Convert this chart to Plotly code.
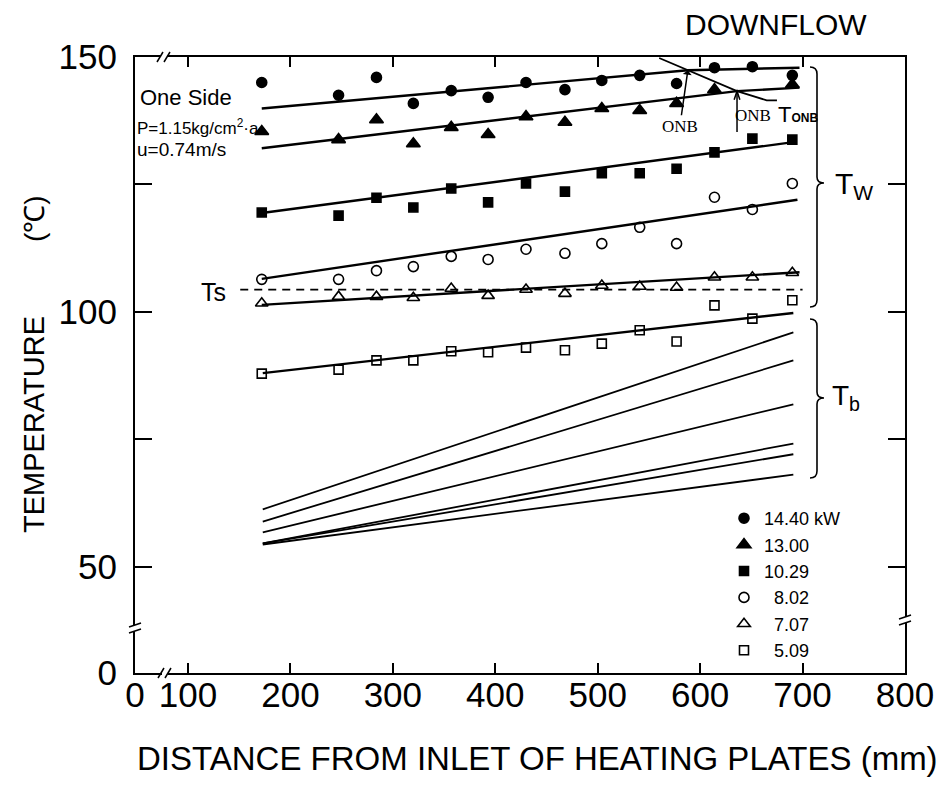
import plotly.graph_objects as go

# ---------------- data ----------------
positions = [172, 247, 284, 320, 357, 393, 430, 468, 504, 541, 577, 614, 651, 690]
positions_13 = [172, 247, 284, 320, 357, 393, 430, 468, 504, 541, 577, 614, 690]

series_names = ["14.40\u00a0kW", "13.00", "10.29", "\u00a0\u00a08.02", "\u00a0\u00a07.07", "\u00a0\u00a05.09"]

tw_1440 = [145.0, 142.5, 146.0, 140.9, 143.4, 142.1, 145.0, 143.6, 145.4, 146.4, 144.8, 147.9, 148.1, 146.4]
tw_1300 = [135.4, 133.8, 137.7, 133.0, 136.2, 134.8, 138.3, 137.2, 139.9, 139.5, 140.9, 143.6, 144.6]
tw_1029 = [119.5, 118.9, 122.4, 120.5, 124.2, 121.5, 125.2, 123.6, 127.2, 127.2, 128.1, 131.3, 134.0, 133.8]
tw_802 = [106.4, 106.4, 108.1, 108.9, 110.9, 110.3, 112.3, 111.5, 113.4, 116.6, 113.4, 122.5, 120.1, 125.2]
tw_707 = [101.7, 103.0, 103.0, 102.8, 104.6, 103.2, 104.4, 103.6, 105.2, 105.0, 104.8, 106.8, 106.8, 107.7]
tw_509 = [87.9, 88.7, 90.5, 90.5, 92.3, 92.1, 93.0, 92.5, 93.8, 96.4, 94.2, 101.3, 98.7, 102.3]

# fitted wall-temperature lines (single phase, then boiling plateau after ONB)
fit_1440_x = [172, 588, 697]
fit_1440_t = [139.9, 147.4, 147.9]
fit_1300_x = [172, 636, 697]
fit_1300_t = [132.1, 143.3, 144.0]
fit_1029_x = [172, 691]
fit_1029_t = [119.4, 133.3]
fit_802_x = [172, 695]
fit_802_t = [106.5, 122.0]
fit_707_x = [172, 697]
fit_707_t = [101.4, 107.8]
fit_509_x = [173, 691]
fit_509_t = [88.0, 99.8]

# bulk temperature lines Tb
tb_x = [173, 691]
tb_1440 = [61.3, 96.0]
tb_1300 = [58.9, 90.5]
tb_1029 = [56.8, 81.9]
tb_802 = [54.6, 74.2]
tb_707 = [54.6, 72.1]
tb_509 = [54.4, 68.1]

# saturation temperature Ts
ts_x = [151, 700]
ts_t = [104.4, 104.4]

# T_ONB locus
tonb_x = [560, 588, 636, 665, 675]
tonb_t = [149.8, 147.4, 143.3, 141.5, 141.5]

# ONB arrow (13.00 kW): tip on the fitted line, tail below
onb2_x = [636, 636]
onb2_t = [143.3, 135.3]

# axis ticks
x_tickvals = [48.26, 100, 200, 300, 400, 500, 600, 700, 800]
x_ticktext = ["0", "100", "200", "300", "400", "500", "600", "700", "800"]
y_tickvals = [29.2, 50, 100, 150]
y_ticktext = ["0", "50", "100", "150"]
y_minor_ticks = [75, 125]

# ---------------- figure ----------------
# the page body has an 8px margin, so the figure is 8px smaller and its
# layout is expressed in reference-picture pixels
OFF = 8
W, H = 949 - OFF, 785 - OFF
PL, PR, PT, PB = 135, 905, 57, 673          # plot area in reference pixels
ML, MT = PL - OFF, PT - OFF
MR, MB = W - (PR - OFF), H - (PB - OFF)
PW, PH = PR - PL, PB - PT


def pp(px, py):
    """reference pixel -> paper coordinates (for decorations only)"""
    return (px - PL) / PW, (PB - py) / PH


fig = go.Figure()

line_style = dict(color="black", width=2.4)
tb_style = dict(color="black", width=1.8)

for fx, ft in [(fit_1440_x, fit_1440_t), (fit_1300_x, fit_1300_t), (fit_1029_x, fit_1029_t),
               (fit_802_x, fit_802_t), (fit_707_x, fit_707_t), (fit_509_x, fit_509_t)]:
    fig.add_trace(go.Scatter(x=fx, y=ft, mode="lines", line=line_style, showlegend=False,
                             hoverinfo="skip"))

for tb in [tb_1440, tb_1300, tb_1029, tb_802, tb_707, tb_509]:
    fig.add_trace(go.Scatter(x=tb_x, y=tb, mode="lines", line=tb_style, showlegend=False,
                             hoverinfo="skip"))

fig.add_trace(go.Scatter(x=ts_x, y=ts_t, mode="lines",
                         line=dict(color="black", width=1.8, dash="8px,6px"),
                         showlegend=False, hoverinfo="skip"))
fig.add_trace(go.Scatter(x=tonb_x, y=tonb_t, mode="lines", line=dict(color="black", width=1.8),
                         showlegend=False, hoverinfo="skip"))
fig.add_trace(go.Scatter(x=onb2_x, y=onb2_t, mode="lines", line=dict(color="black", width=1.5),
                         showlegend=False, hoverinfo="skip"))

marker_specs = [
    (positions, tw_1440, "circle", 10),
    (positions_13, tw_1300, "triangle-up", 12),
    (positions, tw_1029, "square", 9),
    (positions, tw_802, "circle-open", 10),
    (positions, tw_707, "triangle-up-open", 11),
    (positions, tw_509, "square-open", 9),
]
for (xs, ys, sym, size), name in zip(marker_specs, series_names):
    fig.add_trace(go.Scatter(
        x=xs, y=ys, mode="markers", name=name,
        marker=dict(symbol=sym, size=size, color="black",
                    line=dict(color="black", width=1.6)),
    ))

FONT = "Liberation Sans, Arial, sans-serif"
SERIF = "Liberation Serif, Times New Roman, serif"

fig.update_layout(
    width=W, height=H,
    margin=dict(l=ML, r=MR, t=MT, b=MB, pad=0),
    paper_bgcolor="white", plot_bgcolor="white",
    font=dict(family=FONT, color="black"),
    xaxis=dict(range=[48.26, 800], tickvals=x_tickvals, ticktext=x_ticktext,
               ticks="inside", ticklen=10, tickwidth=1.5, tickcolor="black",
               showline=True, linecolor="black", linewidth=2, mirror="ticks",
               showgrid=False, zeroline=False, tickfont=dict(size=35, family=FONT),
               ticklabelstandoff=-10),
    yaxis=dict(range=[29.2, 150], tickvals=y_tickvals, ticktext=y_ticktext,
               ticks="inside", ticklen=17, tickwidth=1.5, tickcolor="black",
               showline=True, linecolor="black", linewidth=2, mirror="ticks",
               showgrid=False, zeroline=False, tickfont=dict(size=35, family=FONT),
               ticklabelstandoff=9,
               minor=dict(tickmode="array", tickvals=y_minor_ticks, ticks="inside",
                          ticklen=17, tickwidth=1.5, tickcolor="black", showgrid=False)),
    legend=dict(x=pp(724, 0)[0], y=pp(0, 500)[1], xanchor="left", yanchor="top",
                bgcolor="rgba(0,0,0,0)", font=dict(size=18, family=FONT),
                tracegroupgap=0, itemwidth=30),
)

ann = []


def text(px, py, s, size, xanchor="center", angle=0, family=FONT, yanchor="middle"):
    x, y = pp(px, py)
    ann.append(dict(xref="paper", yref="paper", x=x, y=y, text=s, showarrow=False,
                    font=dict(size=size, family=family, color="black"),
                    xanchor=xanchor, yanchor=yanchor, textangle=angle))


text(776, 25, "DOWNFLOW", 30)
text(537, 758, "DISTANCE FROM INLET OF HEATING PLATES (mm)", 33)
text(34, 425, "TEMPERATURE", 29, angle=-90)
text(34, 219, "(\u2103)", 28, angle=-90)
text(138, 97, "One Side", 22, xanchor="left")
text(135, 127, "P=1.15kg/cm<sup>2</sup>\u00b7a", 17, xanchor="left")
text(135, 149, "u=0.74m/s", 19, xanchor="left")
text(213, 292, "Ts", 25)
text(833, 186, "T<sub>W</sub>", 30, xanchor="left")
text(830, 397, "T<sub>b</sub>", 28, xanchor="left")
text(753, 116, "ONB", 17, family=SERIF)
text(776, 115, "T<b><span style='font-size:12px'>ONB</span></b>", 22, xanchor="left")

# ONB arrow (14.40 kW)
ann.append(dict(xref="x", yref="y", x=588, y=147.4, ax=-8, ay=56, axref="pixel", ayref="pixel",
                text="ONB", showarrow=True, arrowhead=1, arrowsize=1, arrowwidth=1.5,
                arrowcolor="black", standoff=0,
                font=dict(size=17, family=SERIF, color="black")))

shapes = []

# arrowhead for the 13.00 kW ONB arrow (small open head at the tip)
shapes.append(dict(type="path", xref="x", yref="y",
                   path="M 633.2,141.6 L 636,143.3 L 638.8,141.6",
                   line=dict(color="black", width=1.5)))


def brace(x0, xs, xt, ytop, ytip, ybot):
    def P(a, b):
        x, y = pp(a, b)
        return f"{x:.5f},{y:.5f}"
    path = (f"M {P(x0, ytop)} Q {P(xs, ytop)} {P(xs, ytop + 7)} L {P(xs, ytip - 6)} "
            f"Q {P(xs, ytip)} {P(xt, ytip)} Q {P(xs, ytip)} {P(xs, ytip + 6)} "
            f"L {P(xs, ybot - 7)} Q {P(xs, ybot)} {P(x0, ybot)}")
    shapes.append(dict(type="path", xref="paper", yref="paper", path=path,
                       line=dict(color="black", width=1.6)))


brace(810, 817, 824, 67, 183, 307)
brace(810, 817, 824, 319, 398, 478)


def hbreak(cx, cy):
    x0, y0 = pp(cx - 3, cy + 4)
    x1, y1 = pp(cx + 3, cy - 4)
    shapes.append(dict(type="rect", xref="paper", yref="paper", x0=x0, y0=y0, x1=x1, y1=y1,
                       fillcolor="white", line=dict(width=0)))
    for d in (-4, 3):
        a = pp(cx + d - 3, cy + 5)
        b = pp(cx + d + 3, cy - 5)
        shapes.append(dict(type="line", xref="paper", yref="paper", x0=a[0], y0=a[1],
                           x1=b[0], y1=b[1], line=dict(color="black", width=1.5)))


def vbreak(cx, cy):
    x0, y0 = pp(cx - 4, cy + 3)
    x1, y1 = pp(cx + 4, cy - 3)
    shapes.append(dict(type="rect", xref="paper", yref="paper", x0=x0, y0=y0, x1=x1, y1=y1,
                       fillcolor="white", line=dict(width=0)))
    for d in (-3, 3):
        a = pp(cx - 6, cy + d + 2)
        b = pp(cx + 6, cy + d - 2)
        shapes.append(dict(type="line", xref="paper", yref="paper", x0=a[0], y0=a[1],
                           x1=b[0], y1=b[1], line=dict(color="black", width=1.5)))


hbreak(164, PT)
hbreak(165, PB)
vbreak(PL, 628)
vbreak(PR, 620)

fig.update_layout(annotations=ann, shapes=shapes)

fig.write_html("out.html")
